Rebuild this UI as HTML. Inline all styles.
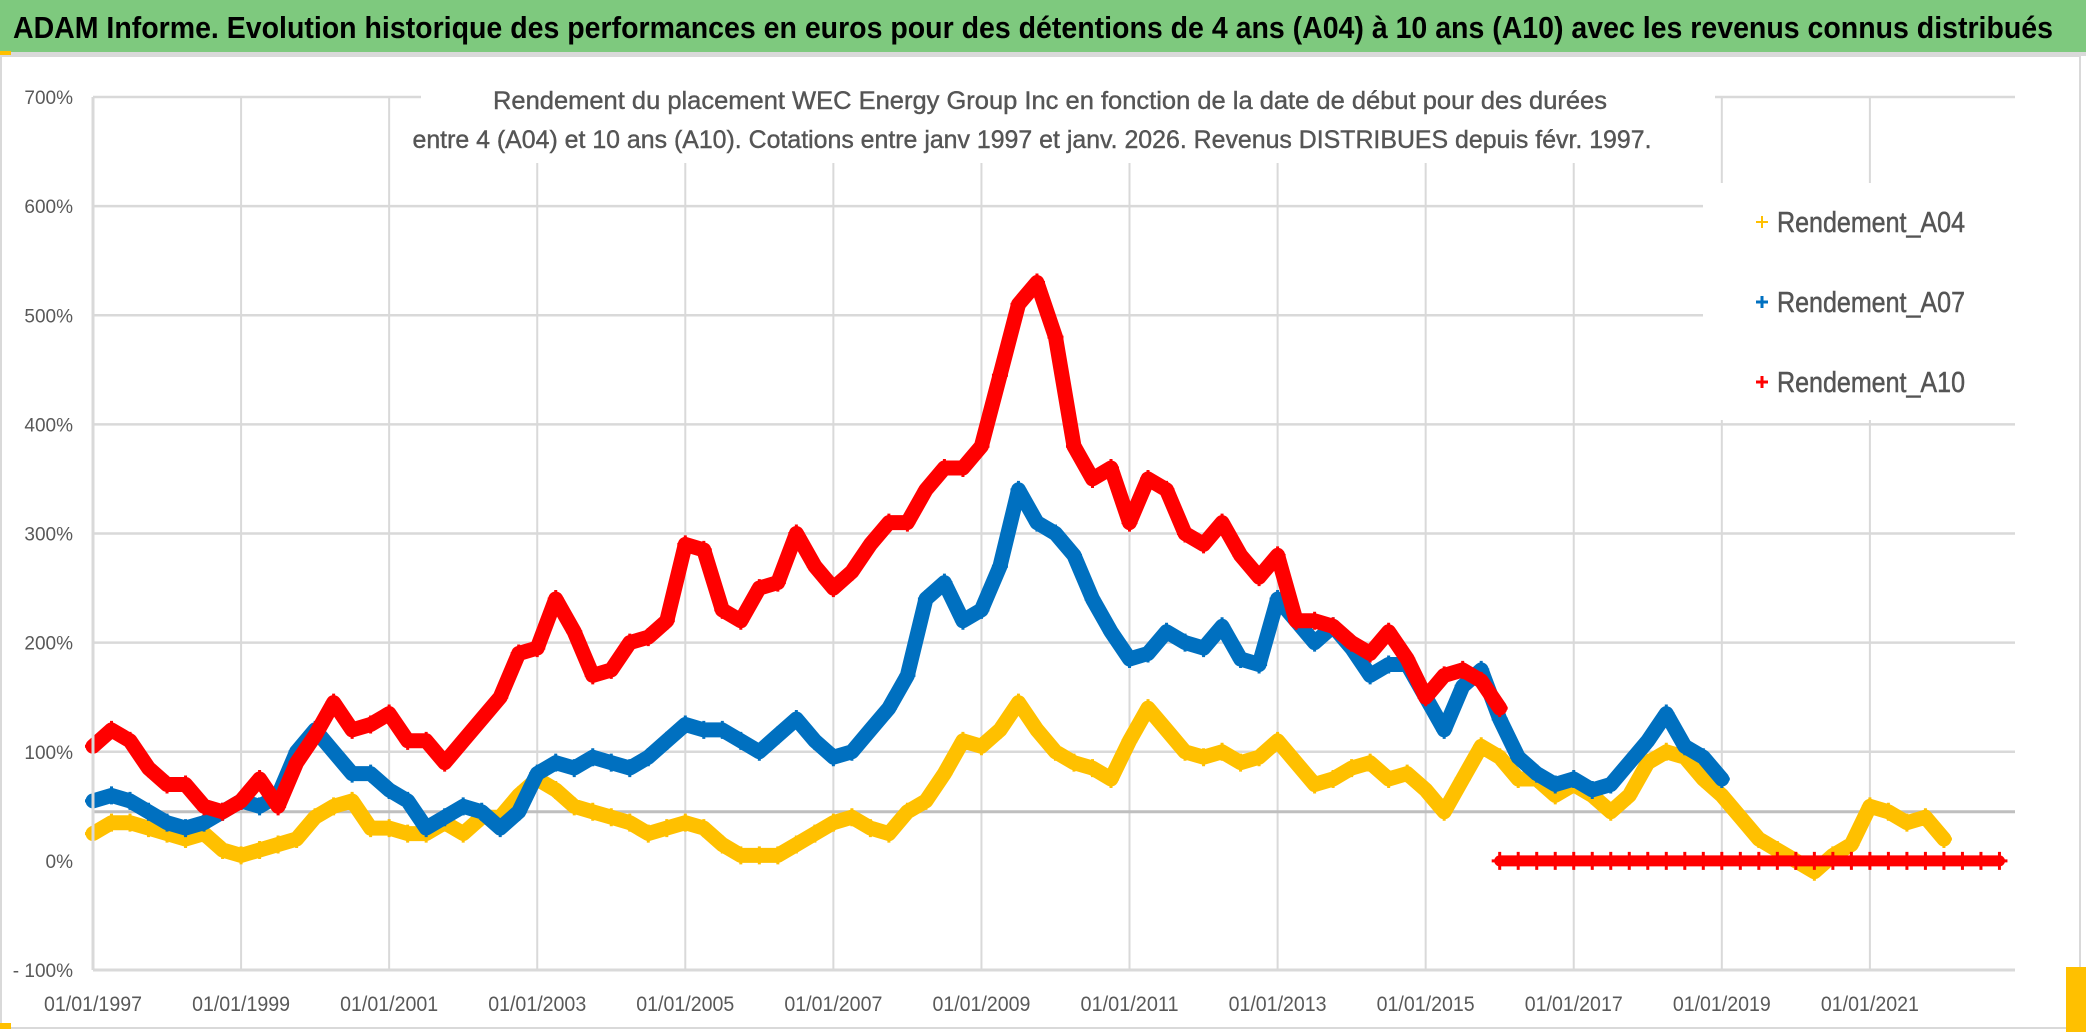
<!DOCTYPE html>
<html><head><meta charset="utf-8"><style>
html,body{margin:0;padding:0;background:#fff;}
svg{display:block;font-family:"Liberation Sans",sans-serif;}
</style></head><body>
<svg id="chart" width="2086" height="1032" viewBox="0 0 2086 1032" xmlns="http://www.w3.org/2000/svg">
<rect x="0" y="0" width="2086" height="1032" fill="#fff"/>
<rect x="0" y="0" width="2086" height="52" fill="#7EC97E"/>
<rect x="0" y="52" width="2086" height="4" fill="#d9d9d9"/>
<rect x="0" y="51" width="11" height="4" fill="#FFC000"/>
<text x="13" y="38" font-size="31" font-weight="bold" fill="#000" textLength="2040" lengthAdjust="spacingAndGlyphs">ADAM Informe. Evolution historique des performances en euros pour des détentions de 4 ans (A04) à 10 ans (A10) avec les revenus connus distribués</text>
<rect x="1" y="56" width="2079" height="972" fill="none" stroke="#d9d9d9" stroke-width="2"/>
<rect x="2066" y="967" width="20" height="65" fill="#FFC000"/>
<rect x="0" y="1023" width="11" height="6" fill="#FFC000"/>
<g id="grid"></g>
<g id="series"></g>
<rect x="421" y="84" width="1294" height="79" fill="#fff"/>
<text x="1050" y="109" font-size="25" fill="#555" stroke="#555" stroke-width="0.4" text-anchor="middle" textLength="1114" lengthAdjust="spacingAndGlyphs">Rendement du placement WEC Energy Group Inc en fonction de la date de début pour des durées</text>
<text x="1032" y="148" font-size="25" fill="#555" stroke="#555" stroke-width="0.4" text-anchor="middle" textLength="1239" lengthAdjust="spacingAndGlyphs">entre 4 (A04) et 10 ans (A10). Cotations entre janv 1997 et janv. 2026. Revenus DISTRIBUES depuis févr. 1997.</text>
<g id="axes"></g>
<g>
<rect x="1703" y="183" width="312" height="237" fill="#fff"/>
<g>
<path d="M1756 222h12M1762 216v12" stroke="#FFC000" stroke-width="2"/>
<text x="1777" y="232" font-size="29" fill="#555" stroke="#555" stroke-width="0.5" textLength="188" lengthAdjust="spacingAndGlyphs">Rendement_A04</text></g>
<g>
<path d="M1756 302h12M1762 296v12" stroke="#0070C0" stroke-width="3"/>
<text x="1777" y="312" font-size="29" fill="#555" stroke="#555" stroke-width="0.5" textLength="188" lengthAdjust="spacingAndGlyphs">Rendement_A07</text></g>
<g>
<path d="M1756 382h12M1762 376v12" stroke="#FF0000" stroke-width="3"/>
<text x="1777" y="392" font-size="29" fill="#555" stroke="#555" stroke-width="0.5" textLength="188" lengthAdjust="spacingAndGlyphs">Rendement_A10</text></g>
</g>
</svg>
<script>
const startYear = 1997;
const step = 0.25;
const a04Values = [25,35,35,30,25,20,25,10,5,10,15,20,40,50,55,30,30,25,25,35,25,40,40,60,75,65,50,45,40,35,25,30,35,30,15,5,5,5,15,25,35,40,30,25,45,55,80,110,105,120,145,120,100,90,85,75,110,140,120,100,95,100,90,95,110,90,70,75,85,90,75,80,65,45,75,105,95,75,75,60,70,60,45,60,90,100,95,75,60,40,20,10,0,-10,5,15,50,45,35,40,20];
const a07Values = [55,60,55,45,35,30,35,45,55,50,60,100,120,100,80,80,65,55,30,40,50,45,30,45,80,90,85,95,90,85,95,110,125,120,120,110,100,115,130,110,95,100,120,140,170,240,255,220,230,270,340,310,300,280,240,210,185,190,210,200,195,215,185,180,240,220,200,215,195,170,180,180,150,120,160,175,130,95,80,70,75,65,70,90,110,135,105,95,75];
const a10Values = [105,120,110,85,70,70,50,45,55,75,50,90,115,145,120,125,135,110,110,90,110,130,150,190,195,240,210,170,175,200,205,220,290,285,230,220,250,255,300,270,250,265,290,310,310,340,360,360,380,445,510,530,480,380,350,360,310,350,340,300,290,310,280,260,280,220,220,215,200,190,210,185,150,170,175,165,140];
const a10ZeroValues = [0,0,0,0,0,0,0,0,0,0,0,0,0,0,0,0,0,0,0,0,0,0,0,0,0,0,0,0];
const a10ZeroStart = 2016.0;
const yTicks = [-100,0,100,200,300,400,500,600,700];
const yTickLabels = ["- 100%","0%","100%","200%","300%","400%","500%","600%","700%"];
const xTickYears = [1997,1999,2001,2003,2005,2007,2009,2011,2013,2015,2017,2019,2021];
const xTickLabels = ["01/01/1997","01/01/1999","01/01/2001","01/01/2003","01/01/2005","01/01/2007","01/01/2009","01/01/2011","01/01/2013","01/01/2015","01/01/2017","01/01/2019","01/01/2021"];
const refLineValue = 45;

const NS="http://www.w3.org/2000/svg";
const X0=93, X1=2015, yearMin=1997, yearMax=2022.96;
const Y0=970, Y1=97, vMin=-100, vMax=700;
function xs(t){return X0+(t-yearMin)/(yearMax-yearMin)*(X1-X0);}
function ys(v){return Y0-(v-vMin)/(vMax-vMin)*(Y0-Y1);}
function mk(tag,attrs,parent){const e=document.createElementNS(NS,tag);for(const k in attrs)e.setAttribute(k,attrs[k]);parent.appendChild(e);return e;}

const grid=document.getElementById('grid');
xTickYears.forEach((yr)=>{
  const l=mk('line',{x1:xs(yr),x2:xs(yr),y1:Y1,y2:Y0,stroke:'#d9d9d9','stroke-width':2},grid);
  
  
});
yTicks.forEach((v)=>{
  if(v<=0) return;
  const l=mk('line',{x1:X0,x2:X1,y1:ys(v),y2:ys(v),stroke:'#d9d9d9','stroke-width':2.5},grid);
  
  
});
const ref=mk('line',{x1:X0,x2:X1,y1:ys(refLineValue),y2:ys(refLineValue),stroke:'#bfbfbf','stroke-width':3},grid);



const series=document.getElementById('series');
function drawSeries(vals,start,color,name,sw){
  const g=mk('g',{},series);
  
  
  const pts=vals.map((v,i)=>xs(start+i*step).toFixed(1)+','+ys(v).toFixed(1)).join(' ');
  const pl=mk('polyline',{points:pts,fill:'none',stroke:color,'stroke-width':sw,'stroke-linejoin':'round','stroke-linecap':'round'},g);
  
  
  vals.forEach((v,i)=>{
    const x=xs(start+i*step), y=ys(v);
    const p=mk('path',{d:`M${x-8} ${y}h16M${x} ${y-9}v18`,stroke:color,'stroke-width':3},g);
    
    
  });
}
drawSeries(a04Values,startYear,'#FFC000','series-a04',15);
drawSeries(a07Values,startYear,'#0070C0','series-a07',15);
drawSeries(a10Values,startYear,'#FF0000','series-a10',15);
drawSeries(a10ZeroValues,a10ZeroStart,'#FF0000','series-a10-zero',11);

const axes=document.getElementById('axes');
const la=mk('line',{x1:X0,x2:X0,y1:Y1,y2:Y0,stroke:'#d9d9d9','stroke-width':3},axes);


const ba=mk('line',{x1:X0,x2:X1,y1:Y0,y2:Y0,stroke:'#d9d9d9','stroke-width':3},axes);


yTicks.forEach((v,i)=>{
  const t=mk('text',{x:73,y:ys(v)+7,'font-size':19,fill:'#595959','text-anchor':'end'},axes);
  t.textContent=yTickLabels[i];
  
  
});
xTickYears.forEach((yr,i)=>{
  const t=mk('text',{x:xs(yr),y:1011,'font-size':21,fill:'#595959','text-anchor':'middle',textLength:98,lengthAdjust:'spacingAndGlyphs'},axes);
  t.textContent=xTickLabels[i];
  
  
});
</script>
</body></html>
